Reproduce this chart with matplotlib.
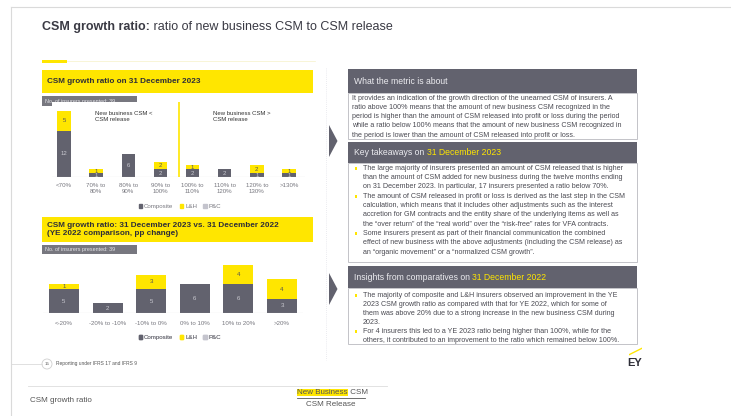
import matplotlib
matplotlib.use("Agg")
import matplotlib.pyplot as plt
from matplotlib.patches import Rectangle, Polygon, Circle, Patch

plt.rcParams['font.family'] = ['Liberation Sans', 'DejaVu Sans']

# ---- data -------------------------------------------------------------
ratio_bins = ["<70%", "70% to\n80%", "80% to\n90%", "90% to\n100%",
              "100% to\n110%", "110% to\n120%", "120% to\n130%", ">130%"]
ratio_composite = [12, 1, 6, 2, 2, 2, 1, 1]
ratio_lh = [5, 1, 0, 2, 1, 0, 2, 1]
ratio_pc = [0, 0, 0, 0, 0, 0, 0, 0]

change_bins = ["<-20%", "-20% to -10%", "-10% to 0%", "0% to 10%", "10% to 20%", ">20%"]
change_composite = [5, 2, 5, 6, 6, 3]
change_lh = [1, 0, 3, 0, 4, 4]
change_pc = [0, 0, 0, 0, 0, 0]

n_insurers = 39

metric_lines = [
    "It provides an indication of the growth direction of the unearned CSM of insurers. A",
    "ratio above 100% means that the amount of new business CSM recognized in the",
    "period is higher than the amount of CSM released into profit or loss during the period",
    "while a ratio below 100% means that the amount of new business CSM recognized in",
    "the period is lower than the amount of CSM released into profit or loss.",
]
takeaway_bullets = [
    ["The large majority of insurers presented an amount of CSM released that is higher",
     "than the amount of CSM added for new business during the twelve months ending",
     "on 31 December 2023. In particular, 17 insurers presented a ratio below 70%."],
    ["The amount of CSM released in profit or loss is derived as the last step in the CSM",
     "calculation, which means that it includes other adjustments such as the interest",
     "accretion for GM contracts and the entity share of the underlying items as well as",
     "the \u201cover return\u201d of the \u201creal world\u201d over the \u201crisk-free\u201d rates for VFA contracts."],
    ["Some insurers present as part of their financial communication the combined",
     "effect of new business with the above adjustments (including the CSM release) as",
     "an \u201corganic movement\u201d or a \u201cnormalized CSM growth\u201d."],
]
insight_bullets = [
    ["The majority of composite and L&H insurers observed an improvement in the YE",
     "2023 CSM growth ratio as compared with that for YE 2022, which for some of",
     "them was above 20% due to a strong increase in the new business CSM during",
     "2023."],
    ["For 4 insurers this led to a YE 2023 ratio being higher than 100%, while for the",
     "others, it contributed to an improvement to the ratio which remained below 100%."],
]

# ---- colours ----------------------------------------------------------
GREY = "#62626e"
TAB = "#77777f"
YEL = "#ffe600"
PC = "#c4c4cd"
TXT = "#4a4a52"
W, H = 731, 416
BODY_FS = 5.1

fig = plt.figure(figsize=(W / 100, H / 100), dpi=100)
fig.patch.set_facecolor("white")

# background axes in pixel coordinates
bg = fig.add_axes([0, 0, 1, 1])
bg.set_xlim(0, W)
bg.set_ylim(H, 0)
bg.axis("off")


def px_axes(l, t, r, b):
    return fig.add_axes([l / W, 1 - b / H, (r - l) / W, (b - t) / H])


def rect(x0, y0, x1, y1, **kw):
    bg.add_patch(Rectangle((x0, y0), x1 - x0, y1 - y0, **kw))


# slide frame
bg.plot([11, W], [7, 7], color="#dadada", lw=0.8)
bg.plot([11, 11], [7, H], color="#dadada", lw=0.8)

# title
t = bg.text(42, 27, "CSM growth ratio:", fontsize=9, fontweight="bold", color="#3a3a44", va="center")
bg.annotate(" ratio of new business CSM to CSM release", xycoords=t, xy=(1, 0.5), va="center",
            fontsize=9, color="#3a3a44")

# yellow tab + faint line
rect(42, 59.5, 67, 62.5, color=YEL, lw=0)
bg.plot([67, 315], [61, 61], color="#f5f1c8", lw=0.5)

# ---- chart 1 ----------------------------------------------------------
rect(42, 70, 313, 93, color=YEL, lw=0)
bg.text(47, 81.5, "CSM growth ratio on 31 December 2023", fontsize=5.9, fontweight="bold",
        color="#2e2e38", va="center")
rect(42, 96, 137, 106, color=TAB, lw=0)
bg.text(45, 101, "No. of insurers presented: %d" % n_insurers, fontsize=3.9, color="#e6e6ea", va="center")

ax1 = px_axes(52, 102, 305, 177)
x1 = list(range(len(ratio_bins)))
ax1.bar(x1, ratio_composite, width=0.42, color=GREY)
ax1.bar(x1, ratio_lh, width=0.42, bottom=ratio_composite, color=YEL)
ax1.set_xlim(-0.373, 7.5)
ax1.set_ylim(0, 19.4)
for i in x1:
    c, l = ratio_composite[i], ratio_lh[i]
    if c:
        ax1.text(i, c / 2, str(c), ha="center", va="center", fontsize=4.3, color="#c9c9d0")
    if l:
        ax1.text(i, c + l / 2, str(l), ha="center", va="center", fontsize=4.3, color="#555")
ax1.axvline(3.58, color=YEL, lw=1.2)
ax1.axhline(0, color="#c8c8c8", lw=0.8)
ax1.text(0.95, 17.2, "New business CSM <\nCSM release", fontsize=4.3, color="#333", va="top", linespacing=1.4)
ax1.text(4.65, 17.2, "New business CSM >\nCSM release", fontsize=4.3, color="#333", va="top", linespacing=1.4)
ax1.set_xticks(x1)
ax1.set_xticklabels(ratio_bins, fontsize=4.4, color="#77777f", linespacing=1.3)
ax1.tick_params(length=0, pad=4)
ax1.set_yticks([])
for s in ax1.spines.values():
    s.set_visible(False)

handles = [Patch(color=GREY, label="Composite"), Patch(color=YEL, label="L&H"), Patch(color=PC, label="P&C")]
for ly in (206.5, 337.5):
    bg.legend(handles=handles, ncol=3, frameon=False, fontsize=4.4, handlelength=0.6, handleheight=0.6,
              handletextpad=0.3, columnspacing=1.0, loc="center", labelcolor="#77777f",
              bbox_to_anchor=(180, ly), bbox_transform=bg.transData)
    bg.add_artist(bg.get_legend())

# ---- chart 2 ----------------------------------------------------------
rect(42, 217, 313, 242, color=YEL, lw=0)
bg.text(47, 229.5, "CSM growth ratio: 31 December 2023 vs. 31 December 2022\n(YE 2022 comparison, pp change)",
        fontsize=5.9, fontweight="bold", color="#2e2e38", va="center", linespacing=1.25)
rect(42, 245, 137, 254, color=TAB, lw=0)
bg.text(45, 249.5, "No. of insurers presented: %d" % n_insurers, fontsize=3.9, color="#e6e6ea", va="center")

ax2 = px_axes(43, 255, 303, 313)
x2 = list(range(len(change_bins)))
ax2.bar(x2, change_composite, width=0.69, color=GREY)
ax2.bar(x2, change_lh, width=0.69, bottom=change_composite, color=YEL)
ax2.set_xlim(-0.48, 5.48)
ax2.set_ylim(0, 12.1)
for i in x2:
    c, l = change_composite[i], change_lh[i]
    if c:
        ax2.text(i, c / 2, str(c), ha="center", va="center", fontsize=4.4, color="#c9c9d0")
    if l:
        ax2.text(i, c + l / 2, str(l), ha="center", va="center", fontsize=4.4, color="#555")
ax2.axhline(0, color="#c8c8c8", lw=0.8)
ax2.set_xticks(x2)
ax2.set_xticklabels(change_bins, fontsize=4.4, color="#77777f")
ax2.tick_params(length=0, pad=6)
ax2.set_yticks([])
for s in ax2.spines.values():
    s.set_visible(False)

# ---- arrows & divider -------------------------------------------------
bg.plot([326, 326], [68, 360], color="#e4e4ea", lw=0.6, ls=(0, (1, 1.5)))
bg.add_patch(Polygon([(329, 125), (337.5, 141), (329, 157)], color=GREY, lw=0))
bg.add_patch(Polygon([(329, 273), (337.5, 289), (329, 305)], color=GREY, lw=0))

# ---- right panels -----------------------------------------------------
PL, PR = 348, 637


def header(y0, y1, pre, hl=None):
    rect(PL, y0, PR, y1, color=GREY, lw=0)
    tt = bg.text(354, (y0 + y1) / 2, pre, fontsize=6.2, color="#ececf0", va="center")
    if hl:
        bg.annotate(hl, xycoords=tt, xy=(1, 0.5), va="center", fontsize=6.2, color=YEL)


def body(y0, y1):
    rect(PL, y0, PR, y1, facecolor="white", edgecolor="#c3c3c8", lw=0.7)


header(69, 93, "What the metric is about")
body(93, 139)
for k, line in enumerate(metric_lines):
    bg.text(352, 98 + 9.3 * k, line, fontsize=BODY_FS, color=TXT, va="center")

header(142, 163, "Key takeaways on ", "31 December 2023")
body(163, 262)
y = 168.3
for b in takeaway_bullets:
    rect(354.5, y - 1.3, 357, y + 1.3, color=YEL, lw=0)
    for line in b:
        bg.text(363, y, line, fontsize=BODY_FS, color=TXT, va="center")
        y += 9.33

header(266, 288, "Insights from comparatives on ", "31 December 2022")
body(288, 344)
y = 295.7
for b in insight_bullets:
    rect(354.5, y - 1.3, 357, y + 1.3, color=YEL, lw=0)
    for line in b:
        bg.text(363, y, line, fontsize=BODY_FS, color=TXT, va="center")
        y += 8.95

# ---- footer -----------------------------------------------------------
bg.plot([11, 42], [364, 364], color="#dadada", lw=0.6)
bg.add_patch(Circle((47, 364), 5, facecolor="white", edgecolor="#cfcfcf", lw=0.6))
bg.text(47, 364, "15", fontsize=3.2, ha="center", va="center", color="#555")
bg.text(56, 364, "Reporting under IFRS 17 and IFRS 9", fontsize=3.5, va="center", color="#555")

bg.add_patch(Polygon([(629, 354), (642, 347.5), (642, 349), (629, 355.5)], color=YEL, lw=0))
bg.text(635, 363, "EY", fontsize=8, fontweight="bold", ha="center", va="center", color="#2e2e38")

# document area below the slide
bg.plot([28, 387], [386, 386], color="#e2e2e2", lw=0.7)
bg.text(30, 400, "CSM growth ratio", fontsize=5.8, color="#555", va="center")
nb = bg.text(297, 392.5, "New Business", fontsize=5.8, color="#555", va="center",
             bbox=dict(boxstyle="square,pad=0.05", facecolor=YEL, edgecolor="none"))
bg.annotate(" CSM", xycoords=nb, xy=(1, 0.5), va="center", fontsize=5.8, color="#555")
bg.plot([297, 365], [398, 398], color="#555", lw=0.6)
bg.text(331, 405, "CSM Release", fontsize=5.8, color="#555", va="center", ha="center")

fig.savefig("out.png", dpi=100, facecolor="white")
